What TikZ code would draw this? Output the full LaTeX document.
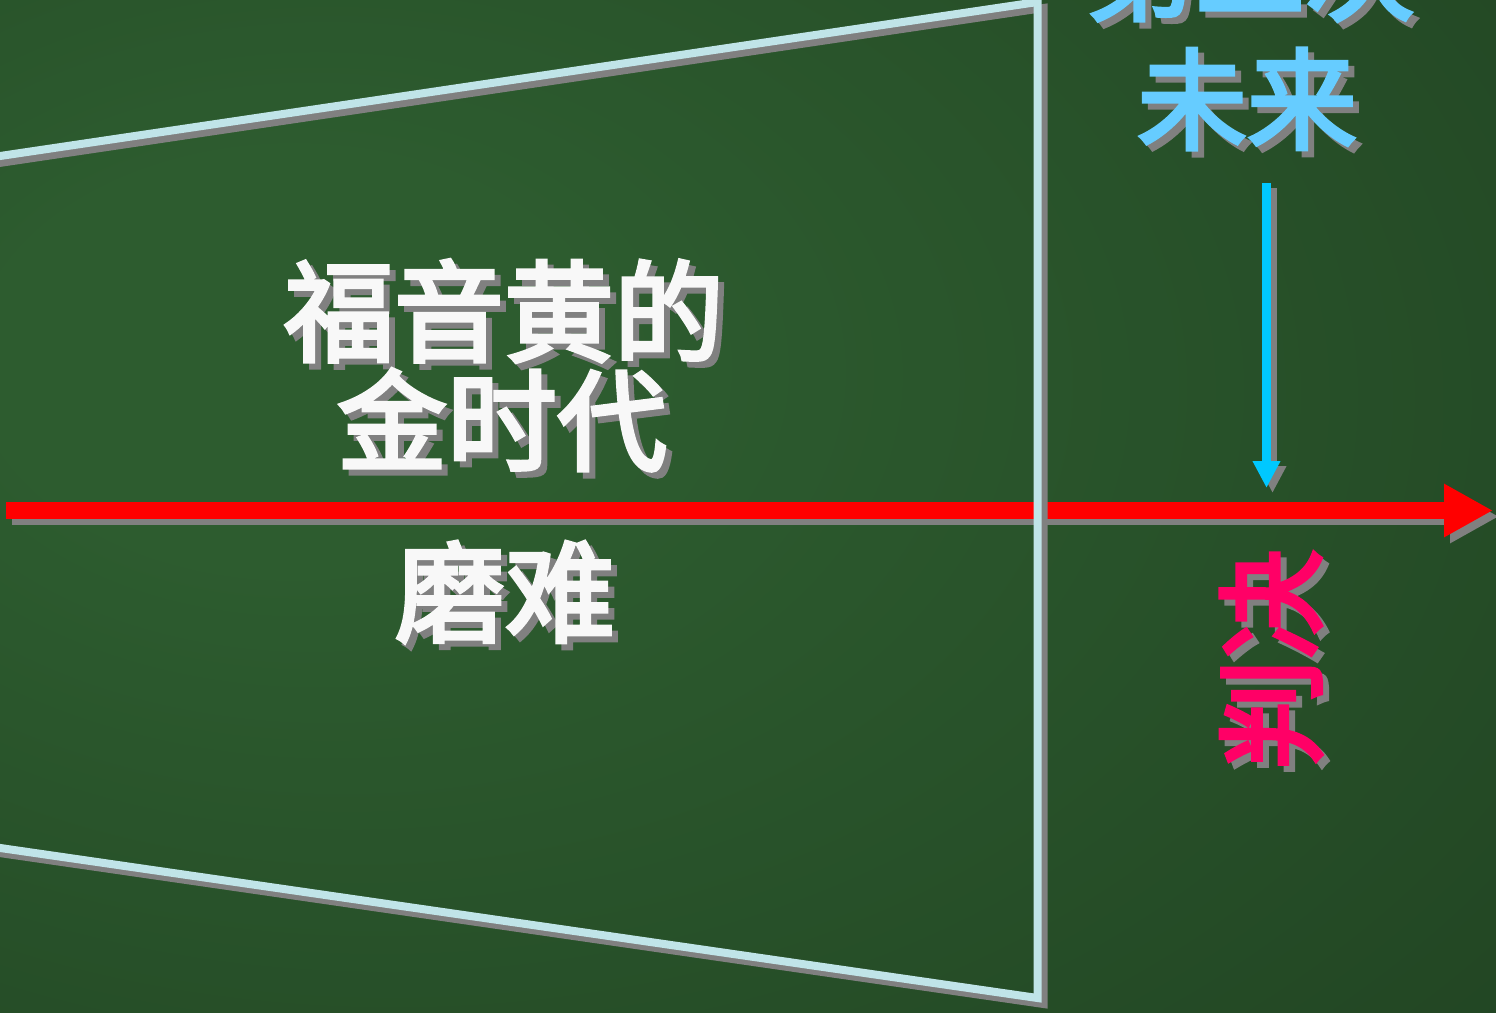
\documentclass[tikz,border=0pt]{standalone}
\usepackage{fontspec}
\newfontfamily\cjk[FakeBold=3.5]{Noto Sans CJK SC}
\usetikzlibrary{arrows.meta}
\definecolor{bgin}{HTML}{2D5C2F}
\definecolor{bgout}{HTML}{1D3C1E}
\definecolor{chalk}{HTML}{F8F8F8}
\definecolor{shadowgray}{HTML}{808080}
\definecolor{framecol}{HTML}{C0E4E8}
\definecolor{arrowred}{HTML}{FF0000}
\definecolor{arrowcyan}{HTML}{00C8FF}
\definecolor{skyblue}{HTML}{66CCFF}
\definecolor{hotpink}{HTML}{FF0066}
\pgfdeclareradialshading{boardbg}{\pgfpoint{-17bp}{8bp}}{color(0bp)=(bgin); color(10bp)=(bgin); color(62bp)=(bgout); color(100bp)=(bgout)}
\tikzset{
  zh/.style={font=\cjk\fontsize{110}{110}\selectfont, inner sep=0pt},
  framepath/.style={line width=8pt, line join=miter},
  redarrow/.style={line width=17pt, -{Triangle[length=49pt,width=50pt]}},
  cyanarrow/.style={line width=9pt, -{Triangle[length=27pt,width=26pt]}},
}
\begin{document}
\begin{tikzpicture}[x=1pt,y=-1pt]
\useasboundingbox (0,0) rectangle (1496,1012);
\clip (0,0) rectangle (1496,1012);
\shade[shading=boardbg] (0,0) rectangle (1496,1012);

% coordinates
\coordinate (rs) at (6,510.5);
\coordinate (re) at (1493,510.5);
\coordinate (cs) at (1266.5,183);
\coordinate (ce) at (1266.5,488);
\coordinate (tl) at (-10,157.5);
\coordinate (tr) at (1037.5,2);
\coordinate (br) at (1037.5,998);
\coordinate (bl) at (-10,846.5);

% red time line
\draw[redarrow, shadowgray] ([shift={(6,6)}]rs) -- ([shift={(6,6)}]re);
\draw[redarrow, arrowred] (rs) -- (re);

% cyan arrow
\draw[cyanarrow, shadowgray] ([shift={(6,5)}]cs) -- ([shift={(6,5)}]ce);
\draw[cyanarrow, arrowcyan] (cs) -- (ce);

% frame
\draw[framepath, shadowgray] ([shift={(6,6)}]tl) -- ([shift={(6,6)}]tr) -- ([shift={(6,6)}]br) -- ([shift={(6,6)}]bl);
\draw[framepath, framecol] (tl) -- (tr) -- (br) -- (bl);

% texts
\node[zh, text=shadowgray] (t1s) at (510,317) {福音黄的};
\node[zh, text=chalk] (t1) at (504,311) {福音黄的};
\node[zh, text=shadowgray] (t2s) at (508,426) {金时代};
\node[zh, text=chalk] (t2) at (502,420) {金时代};
\node[zh, text=shadowgray] (t3s) at (511,598) {磨难};
\node[zh, text=chalk] (t3) at (505,592) {磨难};
\node[zh, text=shadowgray] (t4s) at (1256,-24) {第二次};
\node[zh, text=skyblue] (t4) at (1250,-30) {第二次};
\node[zh, text=shadowgray] (t5s) at (1253,105) {未来};
\node[zh, text=skyblue] (t5) at (1247,99) {未来};
\node[zh, text=shadowgray, rotate=90] (t6s) at (1277,665) {判决};
\node[zh, text=hotpink, rotate=90] (t6) at (1271,659) {判决};
\end{tikzpicture}
\end{document}
